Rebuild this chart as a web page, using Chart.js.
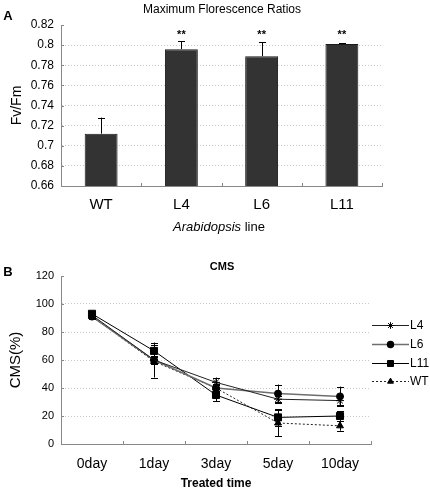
<!DOCTYPE html>
<html><head><meta charset="utf-8">
<script src="https://cdn.jsdelivr.net/npm/chart.js@4.4.1/dist/chart.umd.min.js"></script>
<style>
html,body{margin:0;padding:0;background:#fff;width:430px;height:491px;overflow:hidden;font-family:"Liberation Sans",Arial,sans-serif;}
.t{position:absolute;white-space:nowrap;color:#000;transform:translate(-50%,-50%);line-height:1;}
canvas{position:absolute;left:0;}
</style></head><body>
<canvas id="ca" width="430" height="240" style="top:0"></canvas>
<canvas id="cb" width="430" height="251" style="top:240px"></canvas>
<div class="t" style="left:8px;top:15px;font-weight:bold;font-size:13px">A</div>
<div class="t" style="left:222px;top:9px;font-size:12px">Maximum Florescence Ratios</div>
<div class="t" style="left:219px;top:226px;font-size:13px"><i>Arabidopsis</i> line</div>
<div class="t" style="left:8px;top:271px;font-weight:bold;font-size:13px">B</div>
<div class="t" style="left:222px;top:266px;font-weight:bold;font-size:11px">CMS</div>
<script>
// ---- Panel A data ----
const linesA = ['WT', 'L4', 'L6', 'L11'];
const fvfm = [0.712, 0.796, 0.789, 0.801];
const fvfmErr = [0.016, 0.008, 0.014, 0.001];
const signif = ['', '**', '**', '**'];

// ---- Panel B data ----
const days = ['0day', '1day', '3day', '5day', '10day'];
const cmsL4 = [92, 60, 44, 32, 31];
const cmsL4Err = [2, 2, 3.5, 2, 3];
const cmsL6 = [91, 60, 40, 36, 34];
const cmsL6Err = [2, 3, 3, 6.5, 7];
const cmsL11 = [93, 66.5, 35, 19, 20];
const cmsL11Err = [2, 6, 4.5, 6, 3.5];
const cmsWT = [91, 59, 40, 15, 13];
const cmsWTErr = [2, 11.5, 2, 9.5, 3.5];

const F = '"Liberation Sans", Arial, sans-serif';
Chart.defaults.font.family = F;
Chart.defaults.color = '#000';

const errorBars = {
  id: 'errorBars',
  afterDatasetsDraw(chart) {
    const ctx = chart.ctx, ys = chart.scales.y;
    chart.data.datasets.forEach((ds, di) => {
      if (!ds.errs) return;
      const meta = chart.getDatasetMeta(di);
      meta.data.forEach((el, i) => {
        const v = ds.data[i], e = ds.errs[i];
        const yTop = ys.getPixelForValue(v + e);
        const yBot = ds.errMode === 'up' ? ys.getPixelForValue(v) : ys.getPixelForValue(v - e);
        const x = Math.round(el.x) + 0.5;
        ctx.save();
        ctx.strokeStyle = ds.errColor || '#000';
        ctx.lineWidth = 1;
        ctx.beginPath();
        ctx.moveTo(x, yTop); ctx.lineTo(x, yBot);
        ctx.moveTo(x - 3.5, Math.round(yTop) + 0.5); ctx.lineTo(x + 3.5, Math.round(yTop) + 0.5);
        if (ds.errMode !== 'up') { ctx.moveTo(x - 3.5, Math.round(yBot) + 0.5); ctx.lineTo(x + 3.5, Math.round(yBot) + 0.5); }
        ctx.stroke();
        ctx.restore();
      });
    });
  }
};

// tick marks pointing into the plot area
const innerTicks = {
  id: 'innerTicks',
  afterDatasetsDraw(chart) {
    const ctx = chart.ctx, ca = chart.chartArea, xs = chart.scales.x, ys = chart.scales.y;
    ctx.save();
    ctx.strokeStyle = '#888'; ctx.lineWidth = 1;
    ctx.beginPath();
    ys.ticks.forEach((t, i) => {
      const py = Math.round(ys.getPixelForTick(i)) + 0.5;
      ctx.moveTo(ca.left, py); ctx.lineTo(ca.left + 3, py);
    });
    for (let i = 0; i <= xs.ticks.length; i++) {
      const px = Math.round(xs.getPixelForValue(i - 0.5)) + 0.5;
      ctx.moveTo(px, ca.bottom); ctx.lineTo(px, ca.bottom - 3);
    }
    ctx.stroke();
    ctx.restore();
  }
};

const sigMarks = {
  id: 'sigMarks',
  afterDatasetsDraw(chart) {
    const ctx = chart.ctx;
    const meta = chart.getDatasetMeta(0);
    ctx.save();
    ctx.font = 'bold 11px ' + F;
    ctx.fillStyle = '#000';
    ctx.textAlign = 'center';
    ctx.textBaseline = 'top';
    meta.data.forEach((el, i) => {
      if (signif[i]) ctx.fillText(signif[i], el.x, chart.chartArea.top + 4);
    });
    ctx.restore();
  }
};

const gridColor = (c) => (c.index === 0 || c.index === c.scale.ticks.length - 1) ? 'rgba(0,0,0,0)' : '#c8c8c8';

new Chart(document.getElementById('ca'), {
  type: 'bar',
  data: {
    labels: linesA,
    datasets: [{
      data: fvfm, errs: fvfmErr, errMode: 'up',
      backgroundColor: '#333333', borderColor: '#1a1a1a', borderWidth: 1,
      barPercentage: 0.41, categoryPercentage: 1
    }]
  },
  options: {
    responsive: false, animation: false, devicePixelRatio: 1,
    layout: { padding: { left: 0, right: 48, top: 25, bottom: 0 } },
    plugins: { legend: { display: false }, tooltip: { enabled: false } },
    scales: {
      x: {
        grid: { offset: true, drawOnChartArea: false, drawTicks: false },
        border: { color: '#888' },
        ticks: { color: '#000', font: { size: 15 }, padding: 10 },
        afterFit(s) { s.height = 54; }
      },
      y: {
        min: 0.66, max: 0.82,
        ticks: { stepSize: 0.02, color: '#000', font: { size: 12 }, padding: 7,
          callback: v => String(+(+v).toFixed(2)) },
        grid: { color: gridColor, drawTicks: false },
        border: { color: '#888', dash: [1, 2] },
        title: { display: true, text: 'Fv/Fm', font: { size: 14 }, padding: { top: 9, bottom: 0 } },
        afterFit(s) { s.width = 61; }
      }
    }
  },
  plugins: [innerTicks, errorBars, sigMarks]
});

const legendB = {
  id: 'legendB',
  afterDraw(chart) {
    const ctx = chart.ctx, ca = chart.chartArea;
    chart.data.datasets.forEach((ds, i) => {
      const y = Math.round(ca.top + 49 + i * 18.8) + 0.5;
      const x0 = ca.right + 1, x1 = x0 + 37;
      ctx.save();
      ctx.strokeStyle = ds.borderColor; ctx.lineWidth = ds.borderWidth;
      ctx.setLineDash(ds.borderDash || []);
      ctx.beginPath(); ctx.moveTo(x0, y); ctx.lineTo(x1, y); ctx.stroke();
      ctx.setLineDash([]);
      ctx.fillStyle = '#000'; ctx.strokeStyle = '#000';
      Chart.helpers.drawPoint(ctx, { pointStyle: ds.pointStyle, radius: ds.pointRadius * 0.85, rotation: 0, borderWidth: 1 }, (x0 + x1) / 2, y);
      ctx.font = '12px ' + F; ctx.textBaseline = 'middle'; ctx.textAlign = 'left';
      ctx.fillText(ds.label, x1 + 1, y);
      ctx.restore();
    });
  }
};

const mk = (label, data, errs, style, r, lineColor, lw, dash) => ({
  label, data, errs, errMode: 'both', pointStyle: style, pointRadius: r,
  borderColor: lineColor, borderWidth: lw, borderDash: dash || [],
  pointBackgroundColor: '#000', pointBorderColor: '#000', pointBorderWidth: 1,
  tension: 0, fill: false
});

new Chart(document.getElementById('cb'), {
  type: 'line',
  data: {
    labels: days,
    datasets: [
      mk('L4', cmsL4, cmsL4Err, 'star', 4, '#222', 1),
      mk('L6', cmsL6, cmsL6Err, 'circle', 3.5, '#6e6e6e', 1.5),
      mk('L11', cmsL11, cmsL11Err, 'rect', 5, '#000', 1),
      mk('WT', cmsWT, cmsWTErr, 'triangle', 4, '#222', 1, [2, 2])
    ]
  },
  options: {
    responsive: false, animation: false, devicePixelRatio: 1,
    layout: { padding: { left: 0, right: 59, top: 36, bottom: 0 } },
    plugins: { legend: { display: false }, tooltip: { enabled: false } },
    scales: {
      x: {
        offset: true,
        grid: { offset: true, drawOnChartArea: false, drawTicks: false },
        border: { color: '#888' },
        ticks: { color: '#000', font: { size: 14 }, padding: 12 },
        title: { display: true, text: 'Treated time', font: { size: 12, weight: 'bold' }, padding: { top: 0, bottom: 0 } },
        afterFit(s) { s.height = 47; }
      },
      y: {
        min: 0, max: 120,
        ticks: { stepSize: 20, color: '#000', font: { size: 11 }, padding: 7 },
        grid: { color: gridColor, drawTicks: false },
        border: { color: '#888', dash: [1, 2] },
        title: { display: true, text: 'CMS(%)', font: { size: 15 }, padding: { top: 7, bottom: 0 } },
        afterFit(s) { s.width = 61; }
      }
    }
  },
  plugins: [innerTicks, errorBars, legendB]
});
</script>
</body></html>
